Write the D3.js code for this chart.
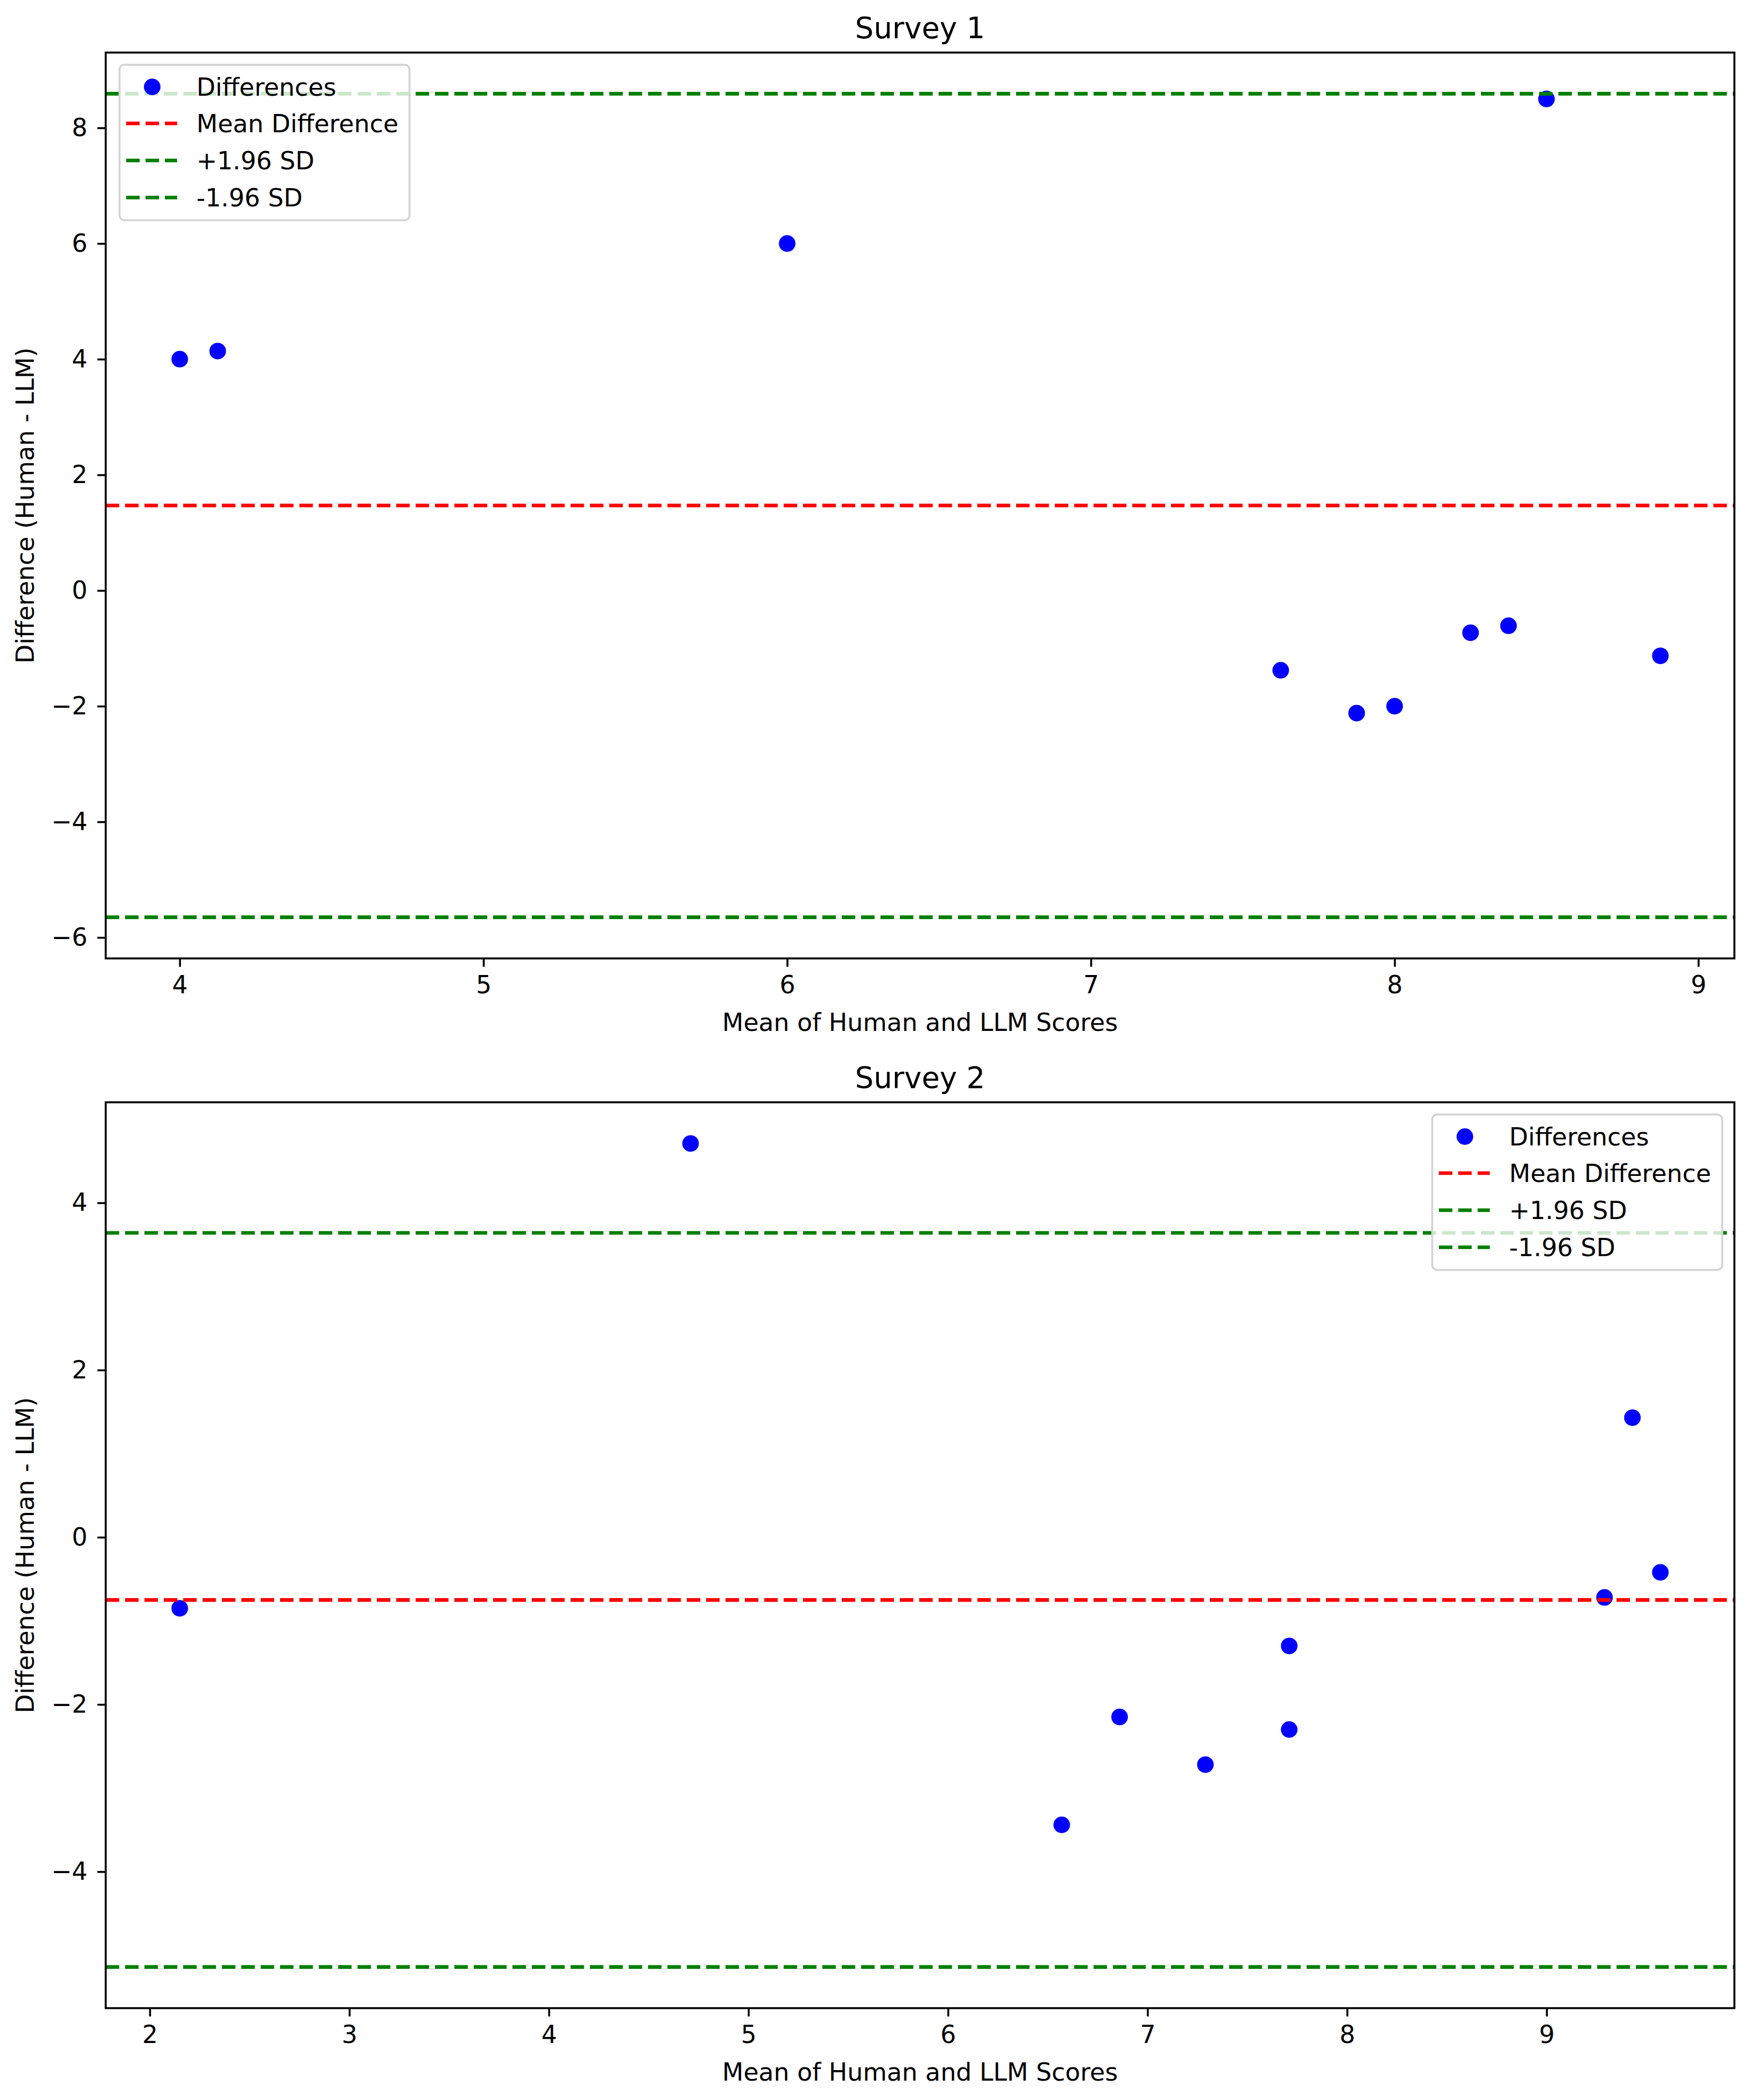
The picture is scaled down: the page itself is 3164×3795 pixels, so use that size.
<html>
<script src="https://d3js.org/d3.v7.min.js"></script>
<body style="margin:0;background:#fff;">
<style>
    text { font-family: "DejaVu Sans", sans-serif; fill: #000; }
    .tick line { stroke: #000; stroke-width: 3.5; }
</style>
<div id="chart"></div>
<script>
    // Survey 1 values
    const survey1Means = [4.0, 4.125, 6.0, 7.625, 7.875, 8.0, 8.25, 8.375, 8.5, 8.875];
    const survey1Diffs = [4.0, 4.14, 6.0, -1.38, -2.12, -2.0, -0.73, -0.61, 8.5, -1.13];
    const survey1MeanDiff = 1.47;
    const survey1Upper = 8.59;
    const survey1Lower = -5.65;
    const survey1XTicks = [4, 5, 6, 7, 8, 9];
    const survey1YTicks = [-6, -4, -2, 0, 2, 4, 6, 8];

    // Survey 2
    const survey2Means = [2.15, 4.71, 6.57, 6.86, 7.29, 7.71, 7.71, 9.29, 9.43, 9.57];
    const survey2Diffs = [-0.85, 4.71, -3.44, -2.15, -2.72, -1.30, -2.30, -0.72, 1.43, -0.42];
    const survey2MeanDiff = -0.75;
    const survey2Upper = 3.64;
    const survey2Lower = -5.14;
    const survey2XTicks = [2, 3, 4, 5, 6, 7, 8, 9];
    const survey2YTicks = [-4, -2, 0, 2, 4];

    const legendLabels = ["Differences", "Mean Difference", "+1.96 SD", "-1.96 SD"];

    const W = 3164, H = 3795;
    const svg = d3.select('#chart').append('svg').attr('width', W).attr('height', H);

    const fs = 44.5;          // tick / label size
    const dash = "24.4,10.6";
    const minus = d => String(d).replace('-', '\u2212');

    // matplotlib style 5% margins
    function padded(lo, hi) {
        let m = (hi - lo) * 0.05;
        return [lo - m, hi + m];
    }

    function panel(opt) {
        let left = 191, right = 3134, top = opt.top, bottom = opt.top + 1637;
        let x = d3.scaleLinear().domain(padded(d3.min(opt.xs), d3.max(opt.xs))).range([left, right]);
        let yAll = opt.ys.concat([opt.mean, opt.upper, opt.lower]);
        let y = d3.scaleLinear().domain(padded(d3.min(yAll), d3.max(yAll))).range([bottom, top]);

        let g = svg.append('g');
        let pts = opt.xs.map((v, i) => ({x: v, y: opt.ys[i]}));

        g.selectAll('.dot').data(pts).enter().append('circle')
            .attr('class', 'dot')
            .attr('cx', d => x(d.x))
            .attr('cy', d => y(d.y))
            .attr('r', 15)
            .attr('fill', 'blue');

        let lines = [
            {v: opt.mean, c: 'red'},
            {v: opt.upper, c: 'green'},
            {v: opt.lower, c: 'green'}
        ];
        g.selectAll('.hline').data(lines).enter().append('line')
            .attr('class', 'hline')
            .attr('x1', left).attr('x2', right)
            .attr('y1', d => y(d.v)).attr('y2', d => y(d.v))
            .attr('stroke', d => d.c)
            .attr('stroke-width', 6.6)
            .attr('stroke-dasharray', dash);

        // axes
        let xa = g.append('g').attr('transform', `translate(0,${bottom})`)
            .call(d3.axisBottom(x).tickValues(opt.xTicks).tickFormat(minus).tickSize(15).tickSizeOuter(0).tickPadding(16));
        xa.select('.domain').remove();
        xa.selectAll('text').attr('font-size', fs).attr('dy', '0.71em');

        let ya = g.append('g').attr('transform', `translate(${left},0)`)
            .call(d3.axisLeft(y).tickValues(opt.yTicks).tickFormat(minus).tickSize(15).tickSizeOuter(0).tickPadding(18));
        ya.select('.domain').remove();
        ya.selectAll('text').attr('font-size', fs);

        g.append('rect')
            .attr('x', left).attr('y', top)
            .attr('width', right - left).attr('height', bottom - top)
            .attr('fill', 'none').attr('stroke', '#000').attr('stroke-width', 3.5);

        g.append('text').text(opt.title)
            .attr('x', (left + right) / 2).attr('y', top - 26)
            .attr('text-anchor', 'middle').attr('font-size', 53);
        g.append('text').text("Mean of Human and LLM Scores")
            .attr('x', (left + right) / 2).attr('y', bottom + 131)
            .attr('text-anchor', 'middle').attr('font-size', fs);
        g.append('text').text("Difference (Human - LLM)")
            .attr('transform', `translate(61,${(top + bottom) / 2}) rotate(-90)`)
            .attr('text-anchor', 'middle').attr('font-size', fs);

        // legend box
        let lx = opt.legendRight ? right - 22 - 524 : left + 25;
        let ly = top + 22;
        let lg = g.append('g').attr('transform', `translate(${lx},${ly})`);
        lg.append('rect').attr('width', 524).attr('height', 281).attr('rx', 9)
            .attr('fill', 'white').attr('fill-opacity', 0.8)
            .attr('stroke', '#d3d3d3').attr('stroke-width', 3.5);
        let rows = [40, 106, 173, 240];
        let cols = ['blue', 'red', 'green', 'green'];
        legendLabels.forEach((lab, i) => {
            if (i === 0) {
                lg.append('circle').attr('cx', 59).attr('cy', rows[i]).attr('r', 15).attr('fill', 'blue');
            } else {
                lg.append('line').attr('x1', 12).attr('x2', 104)
                    .attr('y1', rows[i]).attr('y2', rows[i])
                    .attr('stroke', cols[i]).attr('stroke-width', 6.6)
                    .attr('stroke-dasharray', dash);
            }
            lg.append('text').text(lab).attr('x', 139).attr('y', rows[i] + 16).attr('font-size', fs);
        });
    }

    panel({title: "Survey 1", top: 95, xs: survey1Means, ys: survey1Diffs,
        mean: survey1MeanDiff, upper: survey1Upper, lower: survey1Lower,
        xTicks: survey1XTicks, yTicks: survey1YTicks, legendRight: false});
    panel({title: "Survey 2", top: 1992, xs: survey2Means, ys: survey2Diffs,
        mean: survey2MeanDiff, upper: survey2Upper, lower: survey2Lower,
        xTicks: survey2XTicks, yTicks: survey2YTicks, legendRight: true});
</script>
</body>
</html>
